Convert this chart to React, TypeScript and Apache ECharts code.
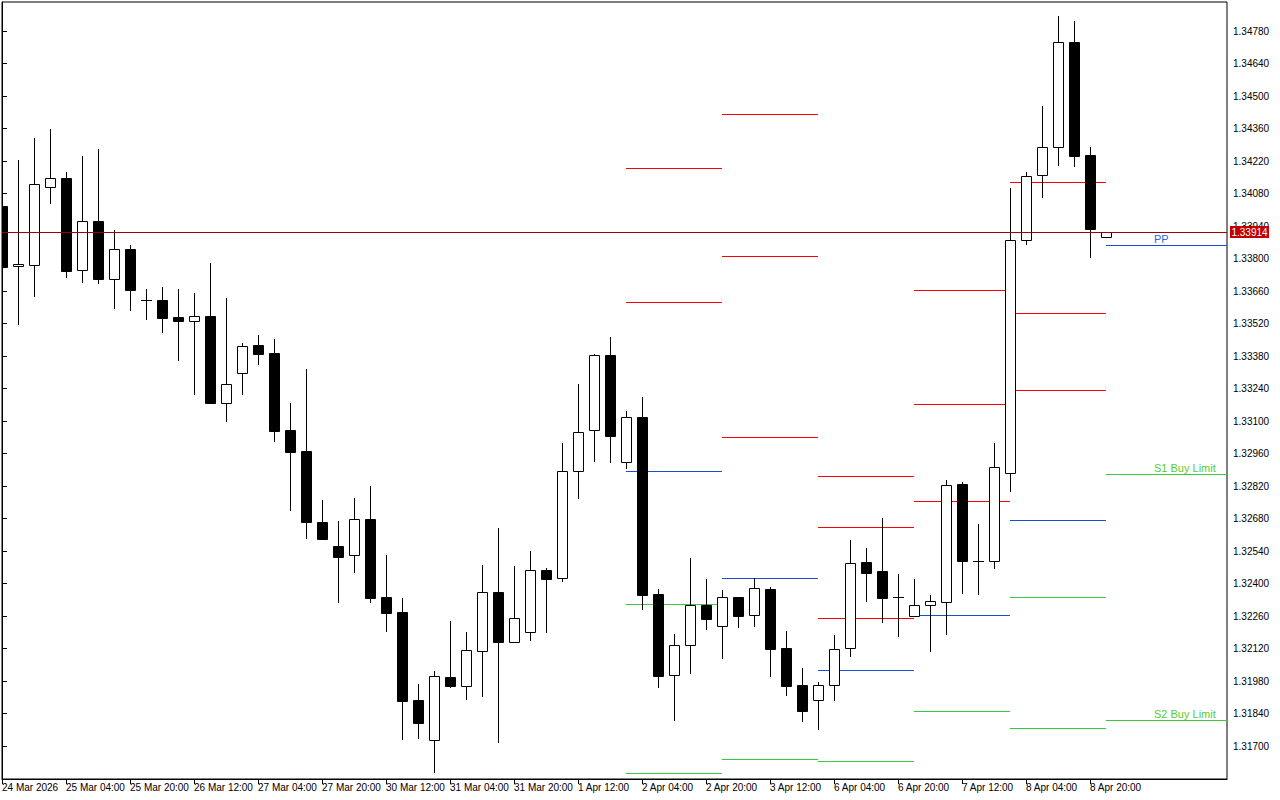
import React, { useEffect, useRef } from 'react';
import * as echarts from 'echarts';

// ---- Candle data (H4 bars, index 0 = 24 Mar 12:00 ... index 69 = 9 Apr 00:00) ----
const openP = [
  1.34026, 1.33766, 1.33773, 1.34107, 1.34147, 1.33749, 1.33962, 1.33713, 1.33840, 1.33621,
  1.33621, 1.33548, 1.33532, 1.33552, 1.33179, 1.33308, 1.33427, 1.33393, 1.33061, 1.32971,
  1.32665, 1.32562, 1.32521, 1.32677, 1.32342, 1.32277, 1.31898, 1.31725, 1.31997, 1.31960,
  1.32111, 1.32363, 1.32149, 1.32192, 1.32458, 1.32422, 1.32883, 1.33060, 1.33384, 1.32922,
  1.33117, 1.32355, 1.32004, 1.32134, 1.32307, 1.32216, 1.32342, 1.32263, 1.32376, 1.32122,
  1.31963, 1.31897, 1.31961, 1.32121, 1.32491, 1.32454, 1.32341, 1.32259, 1.32306, 1.32322,
  1.32829, 1.32499, 1.32496, 1.32877, 1.33878, 1.34158, 1.34279, 1.34733, 1.34246, 1.33894,
];
const highP = [
  1.34035, 1.34224, 1.34319, 1.34358, 1.34173, 1.34242, 1.34272, 1.33923, 1.33858, 1.33669,
  1.33677, 1.33669, 1.33651, 1.33781, 1.33630, 1.33436, 1.33470, 1.33453, 1.33178, 1.33324,
  1.32760, 1.32669, 1.32768, 1.32820, 1.32523, 1.32336, 1.31967, 1.32023, 1.32238, 1.32191,
  1.32480, 1.32639, 1.32475, 1.32540, 1.32465, 1.33004, 1.33259, 1.33390, 1.33462, 1.33143,
  1.33203, 1.32376, 1.32182, 1.32510, 1.32419, 1.32372, 1.32342, 1.32422, 1.32384, 1.32195,
  1.32036, 1.31976, 1.32178, 1.32587, 1.32553, 1.32682, 1.32441, 1.32419, 1.32350, 1.32846,
  1.32836, 1.32656, 1.33005, 1.34102, 1.34171, 1.34457, 1.34845, 1.34823, 1.34280, 1.33914,
];
const lowP = [
  1.33759, 1.33515, 1.33635, 1.34036, 1.33717, 1.33696, 1.33691, 1.33584, 1.33575, 1.33536,
  1.33480, 1.33360, 1.33213, 1.33178, 1.33097, 1.33213, 1.33342, 1.33011, 1.32714, 1.32592,
  1.32590, 1.32317, 1.32446, 1.32317, 1.32192, 1.31727, 1.31731, 1.31585, 1.31951, 1.31899,
  1.31912, 1.31714, 1.32145, 1.32154, 1.32188, 1.32408, 1.32765, 1.32925, 1.32920, 1.32895,
  1.32287, 1.31951, 1.31809, 1.32011, 1.32201, 1.32075, 1.32210, 1.32214, 1.31999, 1.31917,
  1.31805, 1.31770, 1.31894, 1.32085, 1.32322, 1.32231, 1.32171, 1.32257, 1.32106, 1.32179,
  1.32356, 1.32350, 1.32462, 1.32795, 1.33859, 1.34062, 1.34200, 1.34196, 1.33803, 1.33894,
];
const closeP = [
  1.33765, 1.33775, 1.34120, 1.34145, 1.33747, 1.33960, 1.33713, 1.33840, 1.33666, 1.33620,
  1.33545, 1.33532, 1.33551, 1.33179, 1.33258, 1.33422, 1.33390, 1.33058, 1.32968, 1.32666,
  1.32592, 1.32515, 1.32677, 1.32339, 1.32274, 1.31895, 1.31800, 1.32000, 1.31960, 1.32112,
  1.32362, 1.32149, 1.32250, 1.32457, 1.32421, 1.32883, 1.33051, 1.33383, 1.33037, 1.33116,
  1.32352, 1.32003, 1.32134, 1.32306, 1.32248, 1.32341, 1.32261, 1.32379, 1.32119, 1.31960,
  1.31852, 1.31961, 1.32117, 1.32487, 1.32446, 1.32339, 1.32340, 1.32306, 1.32323, 1.32823,
  1.32498, 1.32498, 1.32902, 1.33880, 1.34155, 1.34280, 1.34733, 1.34243, 1.33927, 1.33914,
];

// ---- Axis ticks ----
const xTickIndex = [0, 4, 8, 12, 16, 20, 24, 28, 32, 36, 40, 44, 48, 52, 56, 60, 64, 68];
const xTickLabels = [
  '24 Mar 2026', '25 Mar 04:00', '25 Mar 20:00', '26 Mar 12:00', '27 Mar 04:00', '27 Mar 20:00',
  '30 Mar 12:00', '31 Mar 04:00', '31 Mar 20:00', '1 Apr 12:00', '2 Apr 04:00', '2 Apr 20:00',
  '3 Apr 12:00', '6 Apr 04:00', '6 Apr 20:00', '7 Apr 12:00', '8 Apr 04:00', '8 Apr 20:00',
];
const yTicks = [
  1.317, 1.3184, 1.3198, 1.3212, 1.3226, 1.324, 1.3254, 1.3268, 1.3282, 1.3296, 1.331, 1.3324,
  1.3338, 1.3352, 1.3366, 1.338, 1.3394, 1.3408, 1.3422, 1.3436, 1.345, 1.3464, 1.3478,
];
const currentPrice = 1.33914;

// ---- Daily pivot levels (start / end bar index of each day) ----
const pivotDays = ['2 Apr', '3 Apr', '6 Apr', '7 Apr', '8 Apr', '9 Apr'];
const pivotStart = [39, 45, 51, 57, 63, 69];
const pivotEnd: (number | null)[] = [45, 51, 57, 63, 69, null];
const r3: (number | null)[] = [null, 1.34422, 1.32863, 1.33663, 1.34128, null];
const r2: (number | null)[] = [1.34190, 1.33811, 1.32642, 1.33172, 1.33564, null];
const r1: (number | null)[] = [1.33613, 1.33030, 1.32250, 1.32754, 1.33232, null];
const pp: (number | null)[] = [1.32883, 1.32422, 1.32026, 1.32263, 1.32672, 1.33858];
const s1: (number | null)[] = [1.32310, 1.31643, 1.31634, 1.31849, 1.32341, 1.32870];
const s2: (number | null)[] = [1.31582, null, null, null, 1.31778, 1.31811];
const lastDayLabels = ['', '', '', 'PP', 'S1 Buy Limit', 'S2 Buy Limit'];

// ---- layout / style constants ----
const Y_MIN = 1.31558;
const Y_MAX = 1.34905;
const X_MAX = 76.5625;
const LABEL_X = 72;
const AXIS_FONT = '"Liberation Sans", Arial, sans-serif';
const LEVEL_COLORS = ['#ff0000', '#ff0000', '#ff0000', '#1450d2', '#3cc83c', '#3cc83c'];
const LEVEL_TEXT_COLORS = ['#ff0000', '#ff0000', '#ff0000', '#2864f0', '#58cc30', '#58cc30'];

export default function App() {
  const ref = useRef<HTMLDivElement>(null);

  useEffect(() => {
    if (!ref.current) return;
    const chart = echarts.init(ref.current, undefined, { renderer: 'svg' });

    const candleData = openP.map((o, i) => [i, o, closeP[i], lowP[i], highP[i]]);

    const levelSets = [r3, r2, r1, pp, s1, s2];
    const pivotData: number[][] = [];
    const pivotLabels: string[] = [];
    pivotDays.forEach((_, d) => {
      const s = pivotStart[d];
      const e = pivotEnd[d] == null ? X_MAX : (pivotEnd[d] as number);
      levelSets.forEach((arr, k) => {
        const v = arr[d];
        if (v != null) {
          pivotData.push([s, e, v, k]);
          pivotLabels.push(d === pivotDays.length - 1 ? lastDayLabels[k] : '');
        }
      });
    });

    const xLabelMap: Record<number, string> = {};
    xTickIndex.forEach((v, i) => (xLabelMap[v] = xTickLabels[i]));

    const renderCandle = (params: any, api: any) => {
      const idx = api.value(0);
      const o = api.value(1);
      const c = api.value(2);
      const l = api.value(3);
      const h = api.value(4);
      const po = api.coord([idx, o]);
      const yc = api.coord([idx, c])[1];
      const yl = api.coord([idx, l])[1];
      const yh = api.coord([idx, h])[1];
      const cx = Math.round(po[0]) + 0.5;
      const top = Math.round(Math.min(po[1], yc));
      const bot = Math.round(Math.max(po[1], yc));
      const bull = c > o;
      const children: any[] = [
        {
          type: 'line',
          shape: { x1: cx, y1: Math.round(yh), x2: cx, y2: Math.round(yl) },
          style: { stroke: '#000', lineWidth: 1 },
        },
      ];
      if (bot - top <= 1) {
        children.push({
          type: 'line',
          shape: { x1: cx - 5.5, y1: top + 0.5, x2: cx + 5.5, y2: top + 0.5 },
          style: { stroke: '#000', lineWidth: 1 },
        });
      } else {
        children.push({
          type: 'rect',
          shape: { x: cx - 5, y: top + 0.5, width: 10, height: bot - top },
          style: { fill: bull ? '#ffffff' : '#000000', stroke: '#000', lineWidth: 1 },
        });
      }
      return { type: 'group', children };
    };

    const renderPivot = (params: any, api: any) => {
      const x0 = api.value(0);
      const x1 = api.value(1);
      const lvl = api.value(2);
      const kind = api.value(3);
      const p0 = api.coord([x0, lvl]);
      const p1 = api.coord([x1, lvl]);
      const y = Math.round(p0[1]) + 0.5;
      const children: any[] = [
        {
          type: 'line',
          shape: { x1: Math.round(p0[0]), y1: y, x2: Math.round(p1[0]), y2: y },
          style: { stroke: LEVEL_COLORS[kind], lineWidth: 1 },
        },
      ];
      const label = pivotLabels[params.dataIndex];
      if (label) {
        const lx = api.coord([LABEL_X, lvl])[0];
        children.push({
          type: 'text',
          style: {
            text: label,
            x: Math.round(lx),
            y: y - 1.5,
            fill: LEVEL_TEXT_COLORS[kind],
            fontSize: 11,
            fontFamily: '"Liberation Sans", Arial, sans-serif',
            align: 'left',
            verticalAlign: 'bottom',
          },
        });
      }
      return { type: 'group', children };
    };

    const renderPrice = (params: any, api: any) => {
      const cs = params.coordSys;
      const yv = Math.round(api.coord([0, api.value(1)])[1]) + 0.5;
      const right = cs.x + cs.width;
      return {
        type: 'group',
        children: [
          {
            type: 'line',
            shape: { x1: cs.x, y1: yv, x2: right, y2: yv },
            style: { stroke: '#9c0000', lineWidth: 1 },
          },
          {
            type: 'rect',
            shape: { x: right + 3, y: yv - 6.5, width: 39, height: 12 },
            style: { fill: '#c00000' },
          },
          {
            type: 'text',
            style: {
              text: api.value(1).toFixed(5),
              x: right + 3 + 19.5,
              y: yv,
              fill: '#ffffff',
              fontSize: 10,
              fontFamily: AXIS_FONT,
              align: 'center',
              verticalAlign: 'middle',
            },
          },
        ],
      };
    };

    chart.setOption({
      animation: false,
      backgroundColor: '#ffffff',
      textStyle: { fontFamily: AXIS_FONT },
      grid: {
        left: 2,
        top: 2,
        right: 53,
        bottom: 21,
        show: true,
        borderColor: '#000',
        borderWidth: 1,
        backgroundColor: '#ffffff',
        containLabel: false,
        outerBoundsMode: 'none',
      },
      xAxis: {
        type: 'value',
        min: 0,
        max: X_MAX,
        position: 'bottom',
        axisLine: { show: true, lineStyle: { color: '#000', width: 1 } },
        axisTick: {
          show: true,
          customValues: xTickIndex,
          length: 5,
          inside: false,
          lineStyle: { color: '#000', width: 1 },
        },
        axisLabel: {
          show: true,
          customValues: xTickIndex,
          formatter: (v: number) => xLabelMap[v] ?? '',
          align: 'left',
          margin: 3,
          color: '#000',
          fontSize: 10,
          fontFamily: AXIS_FONT,
          hideOverlap: false,
        },
        splitLine: { show: false },
      },
      yAxis: {
        type: 'value',
        min: Y_MIN,
        max: Y_MAX,
        position: 'right',
        scale: true,
        axisLine: { show: true, lineStyle: { color: '#000', width: 1 } },
        axisTick: {
          show: true,
          customValues: yTicks,
          length: 5,
          inside: false,
          lineStyle: { color: '#000', width: 1 },
        },
        axisLabel: {
          show: true,
          customValues: yTicks,
          formatter: (v: number) => v.toFixed(5),
          margin: 6,
          color: '#000',
          fontSize: 10,
          fontFamily: AXIS_FONT,
          hideOverlap: false,
        },
        splitLine: { show: false },
      },
      series: [
        {
          type: 'custom',
          name: 'pivots',
          renderItem: renderPivot,
          data: pivotData,
          encode: { x: [0, 1], y: 2 },
          clip: true,
          z: 3,
          silent: true,
        },
        {
          type: 'custom',
          name: 'candles',
          renderItem: renderCandle,
          data: candleData,
          encode: { x: 0, y: [1, 2, 3, 4] },
          clip: true,
          z: 4,
          silent: true,
        },
        {
          type: 'custom',
          name: 'price',
          renderItem: renderPrice,
          data: [[X_MAX, currentPrice]],
          encode: { x: 0, y: 1 },
          clip: false,
          z: 10,
          silent: true,
        },
      ],
    });

    return () => chart.dispose();
  }, []);

  return (
    <div
      ref={ref}
      style={{ position: 'absolute', left: 0, top: 0, width: 1280, height: 800, background: '#fff' }}
    />
  );
}
